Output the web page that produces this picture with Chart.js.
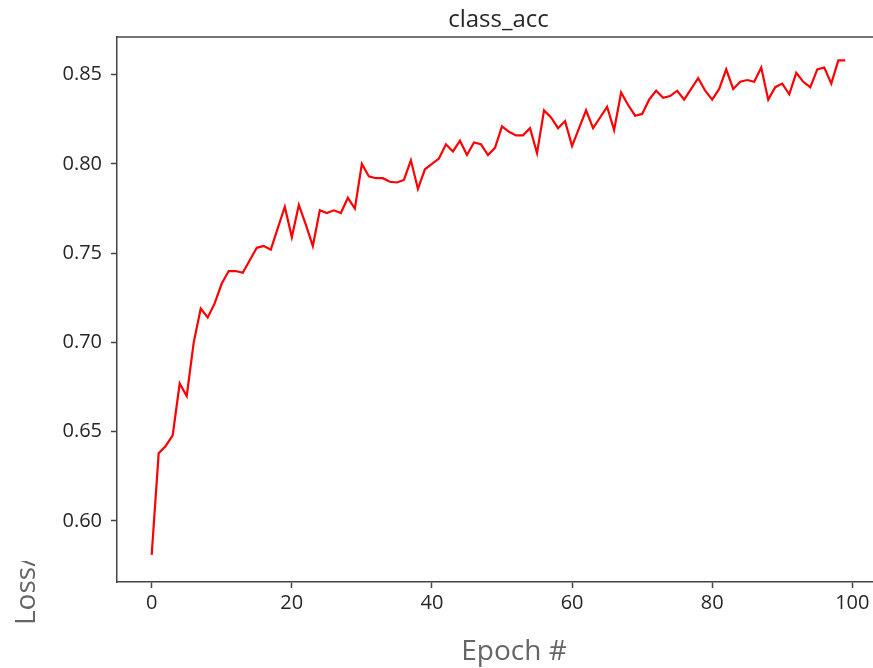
<!DOCTYPE html>
<html>
<head>
<meta charset="utf-8">
<script src="https://cdn.jsdelivr.net/npm/chart.js@4/dist/chart.umd.min.js"></script>
<style>
html, body { margin: 0; padding: 0; overflow: hidden; background: #fff; }
#wrap { width: 873px; height: 668px; overflow: hidden; }
canvas { display: block; }
</style>
</head>
<body>
<div id="wrap"><canvas id="c" width="880" height="668"></canvas></div>
<script>
const chartTitle = "class_acc";
const xLabel = "Epoch #";
const yLabel = "Loss/Accuracy";
const epochs = Array.from({length: 100}, (_, i) => i);
const classAcc = [
  0.581, 0.638, 0.642, 0.648, 0.677, 0.670, 0.700, 0.719, 0.714, 0.722,
  0.733, 0.740, 0.740, 0.739, 0.746, 0.753, 0.754, 0.752, 0.764, 0.776,
  0.759, 0.777, 0.766, 0.754, 0.774, 0.7725, 0.774, 0.7725, 0.781, 0.775,
  0.800, 0.793, 0.792, 0.792, 0.790, 0.7896, 0.791, 0.802, 0.786, 0.797,
  0.800, 0.803, 0.811, 0.807, 0.813, 0.805, 0.812, 0.811, 0.805, 0.809,
  0.821, 0.818, 0.816, 0.816, 0.820, 0.806, 0.830, 0.826, 0.820, 0.824,
  0.810, 0.820, 0.830, 0.820, 0.826, 0.832, 0.819, 0.840, 0.833, 0.827,
  0.828, 0.836, 0.841, 0.837, 0.838, 0.841, 0.836, 0.842, 0.848, 0.841,
  0.836, 0.842, 0.853, 0.842, 0.846, 0.847, 0.846, 0.854, 0.836, 0.843,
  0.845, 0.839, 0.851, 0.846, 0.843, 0.853, 0.854, 0.845, 0.858, 0.858
];
const xTicks = [0, 20, 40, 60, 80, 100];
const yTicks = [0.60, 0.65, 0.70, 0.75, 0.80, 0.85];

const FONT = "'Open Sans', 'DejaVu Sans', sans-serif";

const decor = {
  id: 'decor',
  afterDraw(chart) {
    const ctx = chart.ctx;
    const a = chart.chartArea;
    ctx.save();
    // top spine
    ctx.strokeStyle = '#444';
    ctx.lineWidth = 1.5;
    ctx.beginPath();
    ctx.moveTo(a.left, a.top);
    ctx.lineTo(a.right, a.top);
    ctx.stroke();
    // title
    ctx.fillStyle = '#262626';
    ctx.font = "24px " + FONT;
    ctx.textAlign = 'center';
    ctx.textBaseline = 'alphabetic';
    ctx.fillText(chartTitle, (a.left + a.right) / 2, 27);
    // x label
    ctx.fillStyle = '#666';
    ctx.font = "28px " + FONT;
    ctx.fillText(xLabel, 514, 660);
    // y label (clipped, as in the reference)
    ctx.beginPath();
    ctx.rect(0, 561, 80, 107);
    ctx.clip();
    ctx.translate(35, 625);
    ctx.rotate(-Math.PI / 2);
    ctx.textAlign = 'left';
    ctx.fillText(yLabel, 0, 0);
    ctx.restore();
  }
};

new Chart(document.getElementById('c'), {
  type: 'line',
  data: {
    datasets: [{
      data: epochs.map((e, i) => ({x: e, y: classAcc[i]})),
      borderColor: '#ff0000',
      borderWidth: 2.2,
      pointRadius: 0,
      tension: 0,
      fill: false
    }]
  },
  options: {
    responsive: false,
    animation: false,
    devicePixelRatio: 1,
    layout: { padding: { top: 37, left: 0, right: 0, bottom: 0 } },
    plugins: { legend: { display: false }, title: { display: false }, tooltip: { enabled: false } },
    scales: {
      x: {
        type: 'linear',
        min: -4.95,
        max: 103.95,
        afterFit: s => { s.height = 86; },
        afterBuildTicks: s => { s.ticks = xTicks.map(v => ({value: v})); },
        ticks: {
          font: { family: FONT, size: 20 },
          color: '#262626',
          padding: 3,
          maxRotation: 0,
          autoSkip: false,
          callback: v => String(v)
        },
        grid: { drawOnChartArea: false, drawTicks: true, tickLength: 6, tickColor: '#444', tickWidth: 1.5 },
        border: { display: true, color: '#444', width: 1.5 }
      },
      y: {
        min: 0.5658,
        max: 0.8711,
        afterFit: s => { s.width = 117; },
        afterBuildTicks: s => { s.ticks = yTicks.map(v => ({value: v})); },
        ticks: {
          font: { family: FONT, size: 20 },
          color: '#262626',
          padding: 9,
          autoSkip: false,
          callback: v => Number(v).toFixed(2)
        },
        grid: { drawOnChartArea: false, drawTicks: true, tickLength: 6, tickColor: '#444', tickWidth: 1.5 },
        border: { display: true, color: '#444', width: 1.5 }
      }
    }
  },
  plugins: [decor]
});
</script>
</body>
</html>
